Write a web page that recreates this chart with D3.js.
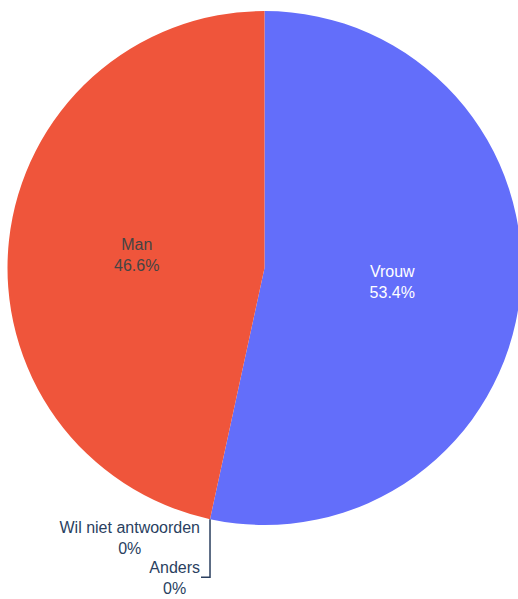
<!DOCTYPE html>
<html>
<head>
<meta charset="utf-8">
<script src="https://cdn.jsdelivr.net/npm/d3@7"></script>
<style>
    html, body { margin: 0; padding: 0; background: #fff; }
    svg { display: block; font-family: "Liberation Sans", Arial, sans-serif; }
</style>
</head>
<body>
<div id="chart"></div>
<script>
// Data, in clockwise drawing order from 12 o'clock
const labels = ['Vrouw', 'Wil niet antwoorden', 'Anders', 'Man'];
const values = [53.4, 0, 0, 46.6];
const colors = ['#636efa', '#00cc96', '#ab63fa', '#ef553b'];
const insideTextColors = ['#ffffff', '#444444', '#444444', '#444444'];

const width = 518, height = 599;
const cx = 264.5, cy = 268, radius = 257;
const fontSize = 16, lineH = 20.8;

const svg = d3.select('#chart')
    .append('svg')
    .attr('width', width)
    .attr('height', height);

const g = svg.append('g')
    .attr('transform', `translate(${cx}, ${cy})`);

const total = d3.sum(values);
const pie = d3.pie().sort(null).value(d => d.value);
const arcs = pie(labels.map((l, i) => ({ label: l, value: values[i], i })));

const arc = d3.arc().innerRadius(0).outerRadius(radius);

// Slices
g.selectAll('.slice')
    .data(arcs.filter(d => d.data.value > 0))
    .enter()
    .append('path')
    .attr('class', 'slice')
    .attr('d', arc)
    .attr('fill', d => colors[d.data.i]);

const pct = v => {
    const p = v / total * 100;
    return p === 0 ? '0%' : p.toFixed(1) + '%';
};

// Inside labels
arcs.filter(d => d.data.value > 0).forEach(d => {
    const [x, y] = arc.centroid(d);
    const t = g.append('text')
        .attr('text-anchor', 'middle')
        .attr('font-size', fontSize)
        .attr('fill', insideTextColors[d.data.i]);
    t.append('tspan').attr('x', x).attr('y', y - 4.6).text(d.data.label);
    t.append('tspan').attr('x', x).attr('y', y - 4.6 + lineH).text(pct(d.data.value));
});

// Outside labels for empty slices
const zeros = arcs.filter(d => d.data.value === 0);
const a0 = zeros[0].startAngle;
const edge = [radius * Math.sin(a0), -radius * Math.cos(a0)];
const labelRight = edge[0] - 10;
const firstBaseline = [edge[1] + 14, edge[1] + 54];

zeros.forEach((d, k) => {
    const t = g.append('text')
        .attr('font-size', fontSize)
        .attr('fill', '#2a3f5f')
        .attr('text-anchor', 'middle');
    const l1 = t.append('tspan').text(d.data.label);
    const w = l1.node().getComputedTextLength();
    const x = labelRight - w / 2;
    l1.attr('x', x).attr('y', firstBaseline[k]);
    t.append('tspan').attr('x', x).attr('y', firstBaseline[k] + lineH).text(pct(d.data.value));
});

// Leader line to the pushed-down label
const lineY = firstBaseline[1] + 4;
g.append('path')
    .attr('d', `M${edge[0]},${edge[1]}V${lineY}H${labelRight + 1}`)
    .attr('fill', 'none')
    .attr('stroke', '#2a3f5f')
    .attr('stroke-width', 1.5);
</script>
</body>
</html>
